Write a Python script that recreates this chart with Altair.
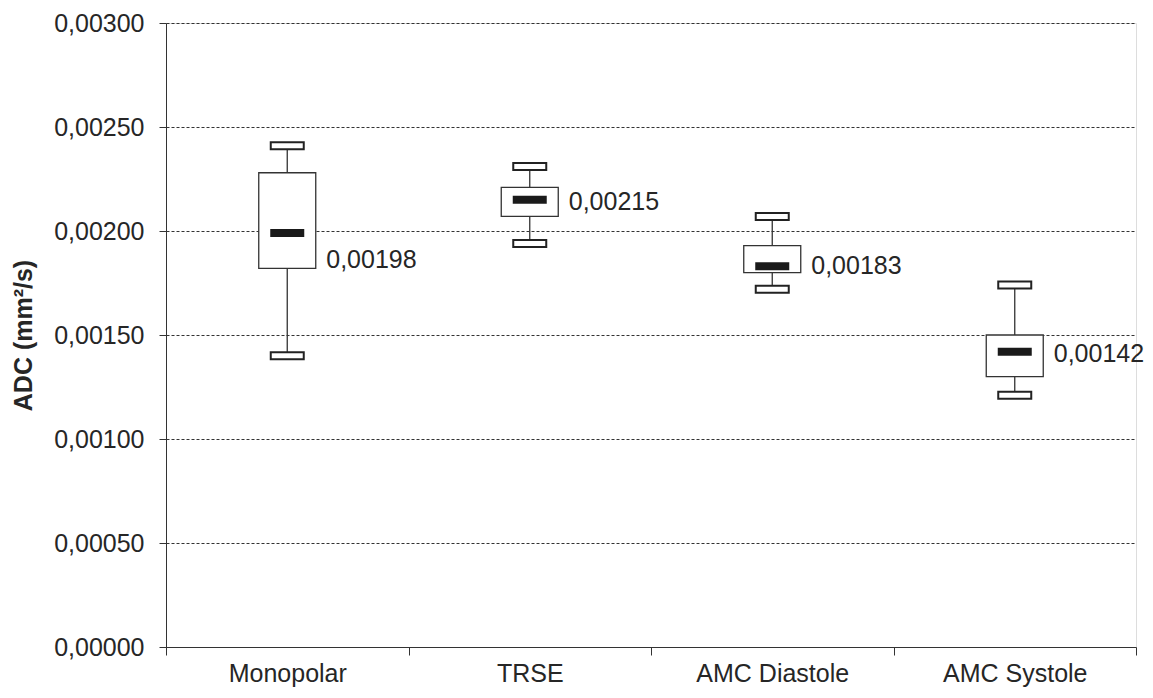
import altair as alt
import pandas as pd

categories = ["Monopolar", "TRSE", "AMC Diastole", "AMC Systole"]
whisker_low = [0.00140, 0.00194, 0.00172, 0.00121]
q1 = [0.00182, 0.00207, 0.00180, 0.00130]
median = [0.00199, 0.00215, 0.00183, 0.00142]
q3 = [0.00228, 0.00221, 0.00193, 0.00150]
whisker_high = [0.00241, 0.00231, 0.00207, 0.00174]
median_labels = ["0,00198", "0,00215", "0,00183", "0,00142"]
label_pos = [0.00186, 0.00214, 0.00183, 0.00141]
y_ticks = [0.0, 0.0005, 0.0010, 0.0015, 0.0020, 0.0025, 0.0030]

df = pd.DataFrame({
    "cat": categories,
    "lo": whisker_low,
    "q1": q1,
    "med": median,
    "q3": q3,
    "hi": whisker_high,
    "lab": median_labels,
    "labpos": label_pos,
})

FONT = "Liberation Sans"
TXT = "#262626"

x = alt.X("cat:N", sort=categories, title=None,
          scale=alt.Scale(paddingInner=0, paddingOuter=0),
          axis=alt.Axis(labelAngle=0, tickBand="extent", tickSize=8,
                        labelFontSize=25, labelFont=FONT, labelColor=TXT,
                        labelPadding=6, domainColor="#333333",
                        tickColor="#333333", grid=False))
yscale = alt.Scale(domain=[0, 0.003], nice=False)
yaxis = alt.Axis(values=y_ticks, title="ADC (mm²/s)",
                 labelExpr="replace(format(datum.value, '.5f'), '.', ',')",
                 labelFontSize=25, labelFont=FONT, labelColor=TXT,
                 labelPadding=15, tickSize=7, tickColor="#333333",
                 domainColor="#333333", grid=True, gridColor="#333333",
                 gridDash=[3, 2], gridWidth=1,
                 titleFont=FONT, titleFontSize=25, titleFontWeight="bold",
                 titleColor=TXT, titlePadding=17)

base = alt.Chart(df)

upper_whisker = base.mark_rule(color="#333333", strokeWidth=1.3).encode(
    x=x, y=alt.Y("q3:Q", scale=yscale, axis=yaxis), y2="hi:Q")
caps_hi = base.mark_tick(size=33, thickness=7, fill="white", stroke="#222222",
                         strokeWidth=2, opacity=1).encode(
    x=x, y=alt.Y("hi:Q", scale=yscale))
caps_lo = base.mark_tick(size=33, thickness=7, fill="white", stroke="#222222",
                         strokeWidth=2, opacity=1).encode(
    x=x, y=alt.Y("lo:Q", scale=yscale))
lower_whisker = base.mark_rule(color="#333333", strokeWidth=1.3).encode(
    x=x, y=alt.Y("lo:Q", scale=yscale), y2="q1:Q")
box = base.mark_bar(size=57, fill="white", stroke="#333333",
                    strokeWidth=1.3).encode(
    x=x, y=alt.Y("q1:Q", scale=yscale), y2="q3:Q")
med = base.mark_tick(size=34, thickness=8, color="#1a1a1a", opacity=1).encode(
    x=x, y=alt.Y("med:Q", scale=yscale))
labels = base.mark_text(align="left", baseline="middle", dx=39, fontSize=25,
                        font=FONT, color=TXT).encode(
    x=x, y=alt.Y("labpos:Q", scale=yscale), text="lab:N")

chart = alt.layer(upper_whisker, caps_hi, lower_whisker, caps_lo, box, med,
                  labels).properties(
    width=970, height=624,
    autosize=alt.AutoSizeParams(type="none"),
    padding={"left": 158, "top": 15, "right": 8, "bottom": 43},
).configure_view(stroke=None).configure(background="white")

chart.save("out.html", embed_options={"renderer": "svg", "actions": False})
